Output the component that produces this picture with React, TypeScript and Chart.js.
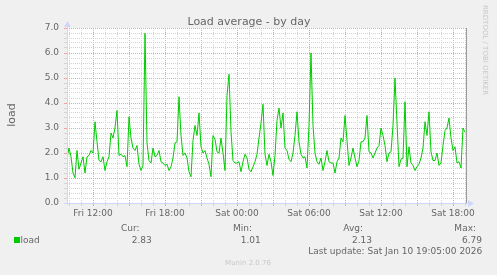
import React, { useEffect, useRef } from 'react';
import { Chart, registerables } from 'chart.js';

Chart.register(...registerables);

// ---- data ----
const START_MINUTE = 590; // Fri 09:50, minutes from Fri 00:00
const END_MINUTE = 2590; // Sat 19:10
const STEP_MINUTES = 10;

const loadValues = [
  1.8, 2.2, 1.85, 1.2, 1.01, 2.1, 1.35, 1.6, 1.85, 1.2,
  1.85, 1.9, 2.1, 2.0, 3.25, 2.45, 1.7, 1.65, 1.85, 1.3,
  1.65, 1.85, 2.8, 2.6, 3.0, 3.7, 1.9, 1.95, 1.85, 1.9,
  1.45, 3.45, 2.6, 2.2, 2.1, 2.3, 1.55, 1.3, 1.5, 6.79,
  2.4, 1.7, 1.6, 2.2, 1.85, 1.9, 2.1, 1.65, 1.6, 1.5,
  1.55, 1.3, 1.45, 1.8, 2.4, 2.45, 4.25, 2.7, 1.9, 2.0,
  1.8, 1.25, 1.05, 2.5, 3.1, 2.7, 3.6, 2.25, 2.0, 2.1,
  1.8, 1.55, 1.05, 2.7, 2.55, 2.05, 2.0, 2.6, 2.0, 1.3,
  4.3, 5.15, 2.85, 1.7, 1.6, 1.6, 1.65, 1.25, 1.65, 1.95,
  1.8, 1.35, 1.25, 1.45, 1.65, 1.95, 2.6, 3.2, 3.95, 1.95,
  1.5, 1.95, 1.65, 1.1, 1.9, 3.3, 3.8, 3.0, 3.6, 2.2,
  2.1, 1.75, 1.65, 2.0, 2.7, 3.65, 2.45, 1.95, 1.8, 1.85,
  1.4, 3.1, 6.0, 3.1, 2.0, 1.65, 1.55, 1.8, 1.3, 1.65,
  2.1, 1.65, 1.6, 1.6, 1.2, 1.65, 1.8, 2.6, 2.45, 3.5,
  2.5, 1.5, 1.8, 2.2, 1.8, 1.45, 1.7, 2.45, 2.45, 2.6,
  3.5, 2.05, 2.0, 1.8, 2.0, 2.2, 2.3, 3.0, 2.7, 2.3,
  1.65, 2.0, 2.05, 3.1, 5.0, 3.2, 1.45, 1.75, 1.8, 4.05,
  1.45, 2.25, 1.6, 1.5, 1.3, 1.45, 1.55, 1.8, 2.2, 3.25,
  2.7, 3.65, 2.05, 1.7, 1.7, 2.0, 1.5, 1.6, 2.3, 2.9,
  3.0, 3.4, 2.6, 2.1, 2.25, 1.6, 1.65, 1.4, 3.0, 2.83,
];

const xTickMinutes = [720, 1080, 1440, 1800, 2160, 2520];
const xTickLabels = ['Fri 12:00', 'Fri 18:00', 'Sat 00:00', 'Sat 06:00', 'Sat 12:00', 'Sat 18:00'];
const yTickValues = [0, 1, 2, 3, 4, 5, 6, 7];
const yTickLabels = ['0.0', '1.0', '2.0', '3.0', '4.0', '5.0', '6.0', '7.0'];

const TITLE = 'Load average - by day';
const Y_TITLE = 'load';
const SERIES_NAME = 'load';
const statHeaders = ['Cur:', 'Min:', 'Avg:', 'Max:'];
const statValues = ['2.83', '1.01', '2.13', '6.79'];
const LAST_UPDATE = 'Last update: Sat Jan 10 19:05:00 2026';
const FOOTER = 'Munin 2.0.76';
const WATERMARK = 'RRDTOOL / TOBI OETIKER';

// ---- styles ----
const FONT = 'DejaVu Sans';
const TEXT = '#666666';
const GREEN = '#00cc00';
const MAJOR = '#f2a0a0';
const MINOR = '#d4d4d4';
const AXIS = '#cfd6f8';

const statHeaderRight = [139.5, 252, 363, 476];
const statValueRight = [151.7, 260.7, 372, 482];

const isMajorX = (v: number) => v % 180 === 0;
const isIntY = (v: number) => Math.abs(v - Math.round(v)) < 1e-6;

const muninPlugin = {
  id: 'muninDecor',
  beforeDraw(chart: any) {
    const { ctx, chartArea: a } = chart;
    ctx.save();
    ctx.fillStyle = '#f0f0f0';
    ctx.fillRect(0, 0, chart.width, chart.height);
    ctx.fillStyle = '#ffffff';
    ctx.fillRect(a.left, a.top, a.right - a.left, a.bottom - a.top);
    ctx.restore();
  },
  afterDraw(chart: any) {
    const { ctx, chartArea: a } = chart;
    ctx.save();
    // right solid line
    ctx.strokeStyle = '#9a9a9a';
    ctx.lineWidth = 1;
    ctx.beginPath();
    ctx.moveTo(a.right - 0.5, a.top);
    ctx.lineTo(a.right - 0.5, a.bottom);
    ctx.stroke();
    // axes
    ctx.strokeStyle = AXIS;
    ctx.beginPath();
    ctx.moveTo(a.left + 0.5, a.bottom + 2);
    ctx.lineTo(a.left + 0.5, a.top - 4);
    ctx.moveTo(a.left - 3, a.bottom + 0.5);
    ctx.lineTo(a.right + 2, a.bottom + 0.5);
    ctx.stroke();
    ctx.fillStyle = AXIS;
    ctx.beginPath();
    ctx.moveTo(a.left - 3, a.top - 1);
    ctx.lineTo(a.left + 4, a.top - 1);
    ctx.lineTo(a.left + 0.5, a.top - 7);
    ctx.closePath();
    ctx.fill();
    ctx.beginPath();
    ctx.moveTo(a.right + 1, a.bottom - 3);
    ctx.lineTo(a.right + 1, a.bottom + 4);
    ctx.lineTo(a.right + 7, a.bottom + 0.5);
    ctx.closePath();
    ctx.fill();

    // title
    ctx.fillStyle = TEXT;
    ctx.font = `11px "${FONT}"`;
    ctx.textAlign = 'center';
    ctx.textBaseline = 'alphabetic';
    ctx.fillText(TITLE, 249, 25);

    // y title
    ctx.save();
    ctx.translate(15, 115);
    ctx.rotate(-Math.PI / 2);
    ctx.fillText(Y_TITLE, 0, 0);
    ctx.restore();

    // legend
    ctx.font = `9px "${FONT}"`;
    ctx.textAlign = 'right';
    statHeaders.forEach((h, i) => ctx.fillText(h, statHeaderRight[i], 231));
    statValues.forEach((v, i) => ctx.fillText(v, statValueRight[i], 243));
    ctx.fillText(LAST_UPDATE, 482.3, 254);
    ctx.textAlign = 'left';
    ctx.fillText(SERIES_NAME, 20.5, 243);
    ctx.fillStyle = GREEN;
    ctx.fillRect(14, 237, 6, 6);

    // footer
    ctx.fillStyle = '#c8c8c8';
    ctx.font = `7px "${FONT}"`;
    ctx.textAlign = 'center';
    ctx.fillText(FOOTER, 248, 265);

    // watermark
    ctx.save();
    ctx.translate(485, 5);
    ctx.rotate(Math.PI / 2);
    ctx.textAlign = 'left';
    ctx.textBaseline = 'middle';
    ctx.fillText(WATERMARK, 0, 0);
    ctx.restore();

    ctx.restore();
  },
};

export default function App() {
  const ref = useRef<HTMLCanvasElement | null>(null);

  useEffect(() => {
    if (!ref.current) return;
    const points = loadValues.map((v, i) => ({ x: START_MINUTE + i * STEP_MINUTES, y: v }));
    const chart = new Chart(ref.current, {
      type: 'line',
      data: {
        datasets: [
          {
            label: SERIES_NAME,
            data: points,
            borderColor: GREEN,
            borderWidth: 1,
            pointRadius: 0,
            tension: 0,
            fill: false,
          },
        ],
      },
      options: {
        responsive: false,
        animation: false,
        events: [],
        layout: { padding: { top: 28, right: 30, left: 0, bottom: 0 } },
        plugins: {
          legend: { display: false },
          tooltip: { enabled: false },
          title: { display: false },
        },
        scales: {
          x: {
            type: 'linear',
            min: START_MINUTE,
            max: END_MINUTE,
            afterBuildTicks: (s: any) => {
              const t = [];
              for (let v = Math.ceil(START_MINUTE / 60) * 60; v <= END_MINUTE; v += 60) t.push({ value: v });
              s.ticks = t;
            },
            afterFit: (s: any) => {
              s.height = 72;
            },
            grid: {
              color: (c: any) => (isMajorX(c.tick.value) ? MAJOR : MINOR),
              tickColor: (c: any) => (isMajorX(c.tick.value) ? MAJOR : MINOR),
              tickLength: 3,
              lineWidth: 1,
            },
            border: { display: false, dash: [1, 1] },
            ticks: {
              autoSkip: false,
              maxRotation: 0,
              padding: 2,
              color: TEXT,
              font: { family: FONT, size: 9 },
              callback: (v: any) => {
                const k = xTickMinutes.indexOf(Number(v));
                return k >= 0 ? xTickLabels[k] : '';
              },
            },
          },
          y: {
            type: 'linear',
            min: 0,
            max: 7,
            afterBuildTicks: (s: any) => {
              const t = [];
              for (let k = 0; k <= 35; k++) t.push({ value: (k * 2) / 10 });
              s.ticks = t;
            },
            afterFit: (s: any) => {
              s.width = 67;
            },
            grid: {
              color: (c: any) => (isIntY(c.tick.value) ? MAJOR : MINOR),
              tickColor: (c: any) => (isIntY(c.tick.value) ? MAJOR : MINOR),
              tickLength: 3,
              lineWidth: 1,
            },
            border: { display: false, dash: [1, 1] },
            ticks: {
              autoSkip: false,
              padding: 5,
              color: TEXT,
              font: { family: FONT, size: 9 },
              callback: (v: any) => {
                const k = yTickValues.findIndex((y) => Math.abs(y - Number(v)) < 1e-6);
                return k >= 0 ? yTickLabels[k] : '';
              },
            },
          },
        },
      },
      plugins: [muninPlugin],
    });
    return () => chart.destroy();
  }, []);

  return (
    <div style={{ position: 'fixed', left: 0, top: 0, width: 497, height: 275 }}>
      <canvas ref={ref} width={497} height={275} />
    </div>
  );
}
